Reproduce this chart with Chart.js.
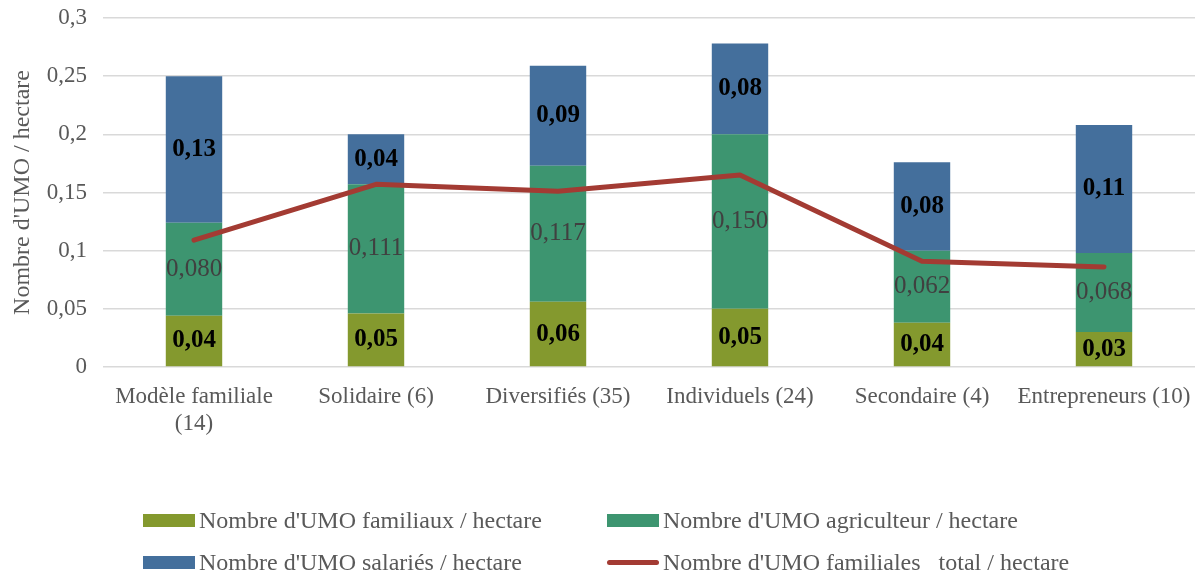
<!DOCTYPE html>
<html>
<head>
<meta charset="utf-8">
<script src="https://cdn.jsdelivr.net/npm/chart.js@4.4.1/dist/chart.umd.min.js"></script>
<style>
  html, body { margin: 0; padding: 0; background: #fff; }
  #wrap { position: relative; width: 1201px; height: 577px; }
  #legend { position: absolute; left: 0; top: 0; width: 1201px; height: 577px; pointer-events: none;
            font-family: "Liberation Serif", "DejaVu Serif", serif; font-size: 24px; color: #595959; }
  .item { position: absolute; display: flex; align-items: center; white-space: pre; height: 30px; }
  .sw { width: 52px; height: 13px; margin-right: 4px; }
  .ln { width: 52px; height: 5px; border-radius: 3px; margin-right: 4px; }
</style>
</head>
<body>
<div id="wrap">
  <canvas id="c" width="1201" height="577"></canvas>
  <div id="legend"></div>
</div>
<script>
const categories = [['Modèle familiale', '(14)'], 'Solidaire (6)', 'Diversifiés (35)', 'Individuels (24)', 'Secondaire (4)', 'Entrepreneurs (10)'];
const familiaux = [0.044, 0.046, 0.056, 0.050, 0.038, 0.030];
const agriculteur = [0.080, 0.111, 0.117, 0.150, 0.062, 0.068];
const salaries = [0.126, 0.043, 0.086, 0.078, 0.076, 0.110];
const familialesTotal = [0.109, 0.157, 0.151, 0.165, 0.091, 0.086];
const yTicks = [0, 0.05, 0.1, 0.15, 0.2, 0.25, 0.3];

const labels = ["Nombre d'UMO familiaux / hectare", "Nombre d'UMO agriculteur / hectare", "Nombre d'UMO salariés / hectare", "Nombre d'UMO familiales   total / hectare"];
const colors = ['#84992e', '#3d9570', '#446f9c', '#a33b33'];
const FONT = '"Liberation Serif", "DejaVu Serif", serif';

const fmt = (v, d) => v.toFixed(d).replace('.', ',');

const segLabels = {
  id: 'segLabels',
  afterDatasetsDraw(chart) {
    const ctx = chart.ctx;
    ctx.save();
    ctx.textAlign = 'center';
    ctx.textBaseline = 'middle';
    [0, 1, 2].forEach(di => {
      const meta = chart.getDatasetMeta(di);
      const ds = chart.data.datasets[di];
      meta.data.forEach((el, i) => {
        const v = ds.data[i];
        const y = (el.y + el.base) / 2;
        if (di === 1) {
          ctx.font = '25px ' + FONT;
          ctx.fillStyle = '#404040';
          ctx.fillText(fmt(v, 3), el.x, y);
        } else {
          ctx.font = 'bold 25px ' + FONT;
          ctx.fillStyle = '#000';
          ctx.fillText(fmt(v, 2), el.x, y);
        }
      });
    });
    ctx.restore();
  }
};

const chart = new Chart(document.getElementById('c'), {
  data: {
    labels: categories,
    datasets: [
      { type: 'bar', label: labels[0], data: familiaux, backgroundColor: colors[0], stack: 'b', order: 1, categoryPercentage: 1, barPercentage: 0.31 },
      { type: 'bar', label: labels[1], data: agriculteur, backgroundColor: colors[1], stack: 'b', order: 1, categoryPercentage: 1, barPercentage: 0.31 },
      { type: 'bar', label: labels[2], data: salaries, backgroundColor: colors[2], stack: 'b', order: 1, categoryPercentage: 1, barPercentage: 0.31 },
      { type: 'line', label: labels[3], data: familialesTotal, borderColor: colors[3], borderWidth: 5, pointRadius: 0, stack: 'l', order: 0, tension: 0, borderCapStyle: 'round', borderJoinStyle: 'round' }
    ]
  },
  options: {
    responsive: false,
    animation: false,
    devicePixelRatio: 1,
    layout: { padding: { top: 18, right: 6, left: 8, bottom: 0 } },
    plugins: { legend: { display: false }, tooltip: { enabled: false } },
    scales: {
      x: {
        stacked: true,
        grid: { display: false },
        border: { display: false },
        ticks: { color: '#595959', font: { family: FONT, size: 23 }, padding: 8, maxRotation: 0, autoSkip: false },
        afterFit: s => { s.height = 210; s.paddingLeft = 0; s.paddingRight = 0; }
      },
      y: {
        stacked: true,
        min: 0, max: 0.3,
        afterBuildTicks: s => { s.ticks = yTicks.map(v => ({ value: v })); },
        grid: { color: '#d9d9d9', lineWidth: 1.5, drawTicks: false },
        border: { display: false },
        ticks: { color: '#595959', font: { family: FONT, size: 23 }, padding: 16,
                 callback: v => String(Math.round(v * 100) / 100).replace('.', ',') },
        title: { display: true, text: "Nombre d'UMO / hectare", color: '#595959', font: { family: FONT, size: 24 }, padding: { top: 0, bottom: 6 } },
        afterFit: s => { s.width = 95; s.paddingTop = 0; s.paddingBottom = 0; }
      }
    }
  },
  plugins: [segLabels]
});

// HTML legend
const leg = document.getElementById('legend');
const pos = [[143, 505], [607, 505], [143, 547], [607, 547]];
labels.forEach((t, i) => {
  const d = document.createElement('div');
  d.className = 'item';
  d.style.left = pos[i][0] + 'px';
  d.style.top = pos[i][1] + 'px';
  const s = document.createElement('span');
  s.className = i === 3 ? 'ln' : 'sw';
  s.style.background = colors[i];
  d.appendChild(s);
  d.appendChild(document.createTextNode(t));
  leg.appendChild(d);
});
</script>
</body>
</html>
